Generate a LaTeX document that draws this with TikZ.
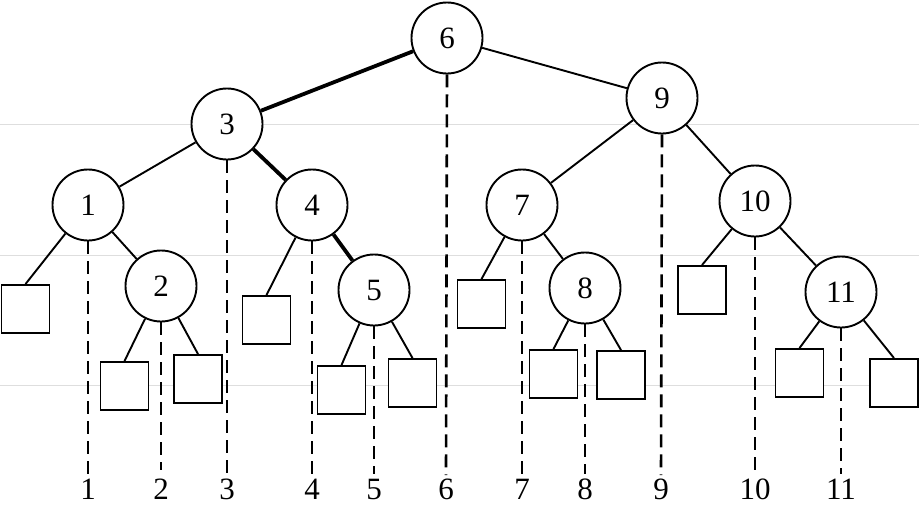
\documentclass[tikz,border=0pt]{standalone}
\usepackage{fontspec}
\setmainfont{Liberation Serif}
\begin{document}
\begin{tikzpicture}[x=1pt,y=-1pt,
 inner/.style={circle,draw,fill=white,line width=1.9pt,minimum size=71pt,inner sep=0pt,font=\fontsize{31}{31}\selectfont},
 leaf/.style={rectangle,draw,fill=white,line width=1.9pt,minimum size=48pt,inner sep=0pt},
 edge/.style={line width=1.9pt},
 heavy/.style={line width=3.8pt},
 guide/.style={dash pattern=on 13pt off 7pt,line width=1.9pt},
 guidethick/.style={dash pattern=on 13pt off 7pt,line width=2.6pt},
 lab/.style={font=\fontsize{31}{31}\selectfont,anchor=base,inner sep=0pt},
 scan/.style={draw=black!13,line width=0.8pt}]
\useasboundingbox (0,0) rectangle (919,507);
% faint scan lines
\coordinate (gl1) at (0,124.5); \coordinate (gr1) at (919,124.5);
\coordinate (gl2) at (0,255); \coordinate (gr2) at (919,255);
\coordinate (gl3) at (0,385); \coordinate (gr3) at (919,385);
\draw[scan] (gl1) -- (gr1);
\draw[scan] (gl2) -- (gr2);
\draw[scan] (gl3) -- (gr3);
% internal nodes
\node[inner] (n6) at (447,38) {6};
\node[inner] (n3) at (227,124) {3};
\node[inner] (n9) at (662,98) {9};
\node[inner] (n1) at (88,205) {1};
\node[inner] (n2) at (161,286) {2};
\node[inner] (n4) at (312,205) {4};
\node[inner] (n5) at (374,290) {5};
\node[inner] (n7) at (522,205) {7};
\node[inner] (n8) at (585,288) {8};
\node[inner] (n10) at (755,201) {10};
\node[inner] (n11) at (841,292) {11};
% leaves
\node[leaf] (s1) at (25.5,309) {};
\node[leaf] (s2) at (124.5,386) {};
\node[leaf] (s3) at (198,379) {};
\node[leaf] (s4) at (266.5,320) {};
\node[leaf] (s5) at (341.5,390) {};
\node[leaf] (s6) at (412.5,383) {};
\node[leaf] (s7) at (481.5,304) {};
\node[leaf] (s8) at (553.5,374) {};
\node[leaf] (s9) at (621,375) {};
\node[leaf] (s10) at (702,290) {};
\node[leaf] (s11) at (799.5,373) {};
\node[leaf] (s12) at (894,383) {};
% edges
\draw[heavy] (n6) -- (n3);
\draw[edge] (n6) -- (n9);
\draw[edge] (n3) -- (n1);
\draw[heavy] (n3) -- (n4);
\draw[edge] (n1) -- (s1.north);
\draw[edge] (n1) -- (n2);
\draw[edge] (n2) -- (s2.north);
\draw[edge] (n2) -- (s3.north);
\draw[edge] (n4) -- (s4.north);
\draw[heavy] (n4) -- (n5);
\draw[edge] (n5) -- (s5.north);
\draw[edge] (n5) -- (s6.north);
\draw[edge] (n9) -- (n7);
\draw[edge] (n9) -- (n10);
\draw[edge] (n7) -- (s7.north);
\draw[edge] (n7) -- (n8);
\draw[edge] (n8) -- (s8.north);
\draw[edge] (n8) -- (s9.north);
\draw[edge] (n10) -- (s10.north);
\draw[edge] (n10) -- (n11);
\draw[edge] (n11) -- (s11.north);
\draw[edge] (n11) -- (s12.north);
% bottom labels
\node[lab] (k1) at (88,499) {1};
\node[lab] (k2) at (161,499) {2};
\node[lab] (k3) at (227,499) {3};
\node[lab] (k4) at (312,499) {4};
\node[lab] (k5) at (374,499) {5};
\node[lab] (k6) at (446,499) {6};
\node[lab] (k7) at (522,499) {7};
\node[lab] (k8) at (585,499) {8};
\node[lab] (k9) at (661,499) {9};
\node[lab] (k10) at (755,499) {10};
\node[lab] (k11) at (841,499) {11};
% dashed guides
\coordinate (e1) at (88,475); \coordinate (e2) at (161,470);
\coordinate (e3) at (227,474); \coordinate (e4) at (312,474);
\coordinate (e5) at (374,474); \coordinate (e6) at (446,475);
\coordinate (e7) at (522,474); \coordinate (e8) at (585,474);
\coordinate (e9) at (661,475); \coordinate (e10) at (755,474);
\coordinate (e11) at (841,474);
\draw[guide] (n1.south) -- (e1);
\draw[guide,line width=1.4pt] (n2.south) -- (e2);
\draw[guide] (n3.south) -- (e3);
\draw[guide] (n4.south) -- (e4);
\draw[guide] (n5.south) -- (e5);
\draw[guidethick] (n6.south) -- (e6);
\draw[guide] (n7.south) -- (e7);
\draw[guidethick] (n8.south) -- (e8);
\draw[guidethick] (n9.south) -- (e9);
\draw[guide] (n10.south) -- (e10);
\draw[guide] (n11.south) -- (e11);
\end{tikzpicture}
\end{document}
